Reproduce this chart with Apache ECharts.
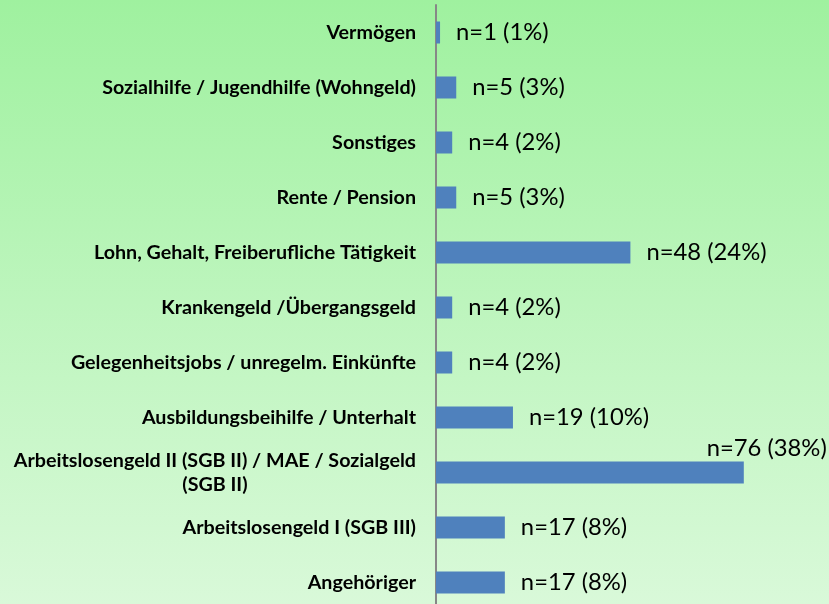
<!DOCTYPE html>
<html>
<head>
<meta charset="utf-8">
<script src="https://cdn.jsdelivr.net/npm/echarts@6/dist/echarts.min.js"></script>
<style>
  html, body { margin: 0; padding: 0; }
  #chart { width: 829px; height: 604px; }
</style>
</head>
<body>
<div id="chart"></div>
<script>
// Einkommensquellen, top to bottom
const categories = [
  'Vermögen',
  'Sozialhilfe / Jugendhilfe (Wohngeld)',
  'Sonstiges',
  'Rente / Pension',
  'Lohn, Gehalt, Freiberufliche Tätigkeit',
  'Krankengeld /Übergangsgeld',
  'Gelegenheitsjobs / unregelm. Einkünfte',
  'Ausbildungsbeihilfe / Unterhalt',
  'Arbeitslosengeld II (SGB II) / MAE / Sozialgeld\n(SGB II)',
  'Arbeitslosengeld I (SGB III)',
  'Angehöriger'
];
// number of answers per source
const counts = [1, 5, 4, 5, 48, 4, 4, 19, 76, 17, 17];
// share of all answers, percent
const shares = [1, 3, 2, 3, 24, 2, 2, 10, 38, 8, 8];

const FONT = 'Lato, "Open Sans", sans-serif';
const BAR_COLOR = '#4f81bd';
const CAT_SIZE = 19.7;
const VAL_SIZE = 23.8;

const chart = echarts.init(document.getElementById('chart'), null, { renderer: 'canvas' });

const seriesData = counts.map(function (v, i) {
  const item = { value: v, share: shares[i] };
  // the longest bar carries its label above its end
  if (v === Math.max.apply(null, counts)) {
    item.label = {
      position: ['100%', 0],
      align: 'right',
      verticalAlign: 'middle',
      offset: [83, -13]
    };
  }
  return item;
});

chart.setOption({
  backgroundColor: new echarts.graphic.LinearGradient(0, 0, 0, 1, [
    { offset: 0, color: '#9ff19f' },
    { offset: 0.5, color: '#bdf5bd' },
    { offset: 1, color: '#d9f9d9' }
  ]),
  animation: false,
  grid: {
    left: 436, top: 5, width: 364.5, height: 605,
    containLabel: false,
    outerBoundsMode: 'none'
  },
  xAxis: {
    type: 'value',
    min: 0,
    max: 90,
    show: false
  },
  yAxis: {
    type: 'category',
    inverse: true,
    data: categories,
    axisLine: { show: true, lineStyle: { color: '#878787', width: 2 } },
    axisTick: { show: false },
    splitLine: { show: false },
    axisLabel: {
      margin: 20,
      fontFamily: FONT,
      fontWeight: 'bold',
      fontSize: CAT_SIZE,
      color: '#000',
      lineHeight: 24,
      formatter: function (val) {
        return val.split('\n').map(function (l) { return '{c|' + l + '}'; }).join('\n');
      },
      rich: {
        c: {
          align: 'center',
          fontFamily: FONT,
          fontWeight: 'bold',
          fontSize: CAT_SIZE,
          color: '#000',
          lineHeight: 24
        }
      }
    }
  },
  series: [{
    type: 'bar',
    data: seriesData,
    barWidth: 22,
    itemStyle: { color: BAR_COLOR },
    label: {
      show: true,
      position: 'right',
      distance: 16,
      fontFamily: FONT,
      fontSize: VAL_SIZE,
      color: '#000',
      formatter: function (p) {
        return 'n=' + p.value + ' (' + p.data.share + '%)';
      }
    }
  }]
});
</script>
</body>
</html>
